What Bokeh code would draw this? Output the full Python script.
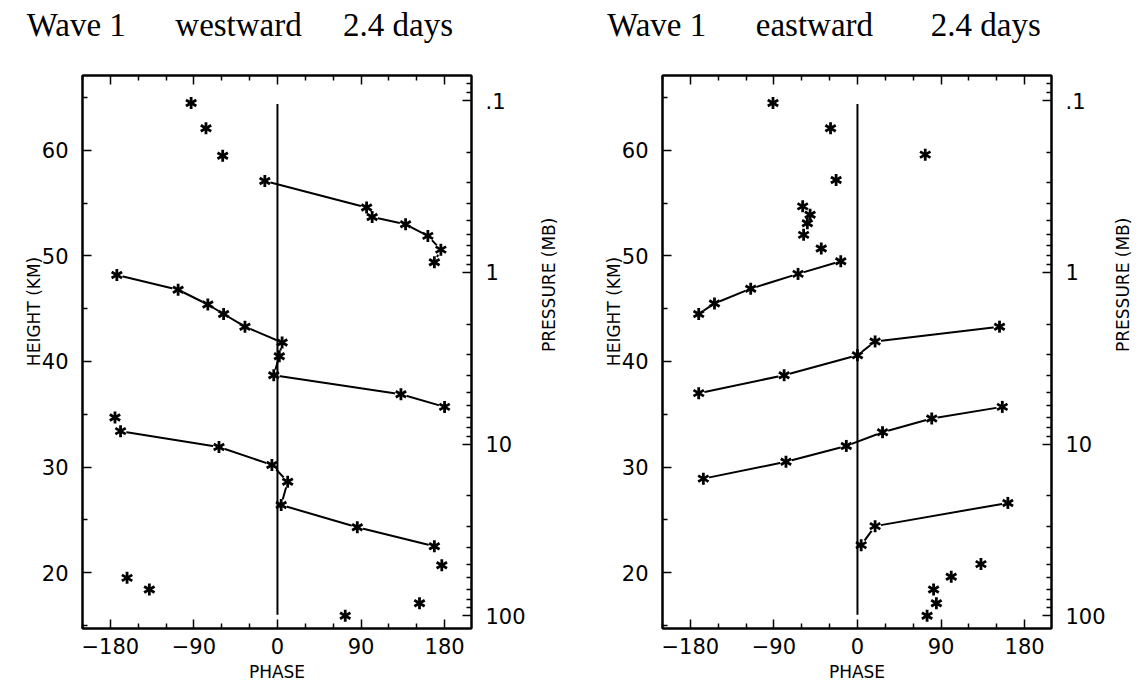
import math
from bokeh.plotting import figure
from bokeh.layouts import row
from bokeh.models import (Range1d, LinearAxis, LogAxis, LogScale, FixedTicker,
                          BasicTickFormatter)
from bokeh.embed import file_html
from bokeh.resources import INLINE

# ---------------- axis ticks / labels ----------------
phase_ticks = [-180, -90, 0, 90, 180]
phase_tick_labels = ["\u2212180", "\u221290", "0", "90", "180"]
phase_minor_ticks = [-210, -150, -120, -60, -30, 30, 60, 120, 150]
height_ticks = [20, 30, 40, 50, 60]
height_tick_labels = ["20", "30", "40", "50", "60"]
height_minor_ticks = [15, 25, 35, 45, 55, 65]
pressure_ticks = [0.1, 1, 10, 100]
pressure_tick_labels = [".1", "1", "10", "100"]
pressure_minor_ticks = [0.08, 0.09, 0.2, 0.3, 0.4, 0.5, 0.6, 0.7, 0.8, 0.9,
                        2, 3, 4, 5, 6, 7, 8, 9, 20, 30, 40, 50, 60, 70, 80, 90]

# log-pressure height relation used for the right axis: z = Z_AT_1MB - KM_PER_DECADE*log10(p)
Z_AT_1MB = 48.45
KM_PER_DECADE = 16.275

# vertical reference line at phase 0 (height extent, km)
zero_line_height = [16.0, 64.4]

# ---------------- Wave 1, westward, 2.4 days ----------------
west_title = ["Wave 1", "westward", "2.4 days"]
west_chain_a_phase = [-13.6, 96, 102, 138, 162, 176, 169]
west_chain_a_height = [57.1, 54.6, 53.7, 53.0, 51.9, 50.6, 49.4]
west_chain_b_phase = [-173, -107, -75, -58, -35, 5, 2, -4, 133, 180]
west_chain_b_height = [48.2, 46.8, 45.4, 44.5, 43.3, 41.8, 40.5, 38.7, 36.9, 35.7]
west_chain_c_phase = [-169, -63, -6, 11, 4, 86, 169]
west_chain_c_height = [33.4, 31.9, 30.2, 28.6, 26.4, 24.3, 22.5]
west_single_phase = [-93, -77, -59, -175, 177, -162, -138, 153, 73]
west_single_height = [64.5, 62.1, 59.5, 34.7, 20.7, 19.5, 18.4, 17.1, 15.9]

# ---------------- Wave 1, eastward, 2.4 days ----------------
east_title = ["Wave 1", "eastward", "2.4 days"]
east_chain_a_phase = [-171, -154, -115, -64, -18]
east_chain_a_height = [44.5, 45.5, 46.9, 48.3, 49.5]
east_chain_b_phase = [-171, -79, 0, 19, 153]
east_chain_b_height = [37.0, 38.7, 40.6, 41.9, 43.3]
east_chain_c_phase = [-166, -77, -12, 27, 80, 156]
east_chain_c_height = [28.9, 30.5, 32.0, 33.3, 34.6, 35.7]
east_chain_d_phase = [4, 19, 162]
east_chain_d_height = [22.6, 24.4, 26.6]
east_chain_e_phase = [-51, -54]
east_chain_e_height = [53.9, 53.1]
east_single_phase = [-91, -29, 73, -23, -59, -58, -39, 133, 101, 82, 85, 75]
east_single_height = [64.5, 62.1, 59.6, 57.2, 54.7, 52.0, 50.7, 20.8, 19.6, 18.4, 17.1, 15.9]

# ---------------- layout constants ----------------
X_START, X_END = -210, 209
Y_START, Y_END = 14.7, 67.1
FRAME_W, FRAME_H = 389, 553
BORDER_TOP, BORDER_BOTTOM = 75, 58
P_START = 10 ** ((Z_AT_1MB - Y_START) / KM_PER_DECADE)
P_END = 10 ** ((Z_AT_1MB - Y_END) / KM_PER_DECADE)

TICK_FONT = "DejaVu Sans"
LABEL_FONT = "DejaVu Sans"
TITLE_FONT = "Liberation Serif"
NB = "\u00a0"


def style_axis(ax):
    ax.axis_line_color = "black"
    ax.axis_line_width = 2
    ax.major_tick_line_color = "black"
    ax.minor_tick_line_color = "black"
    ax.major_tick_line_width = 1.5
    ax.minor_tick_line_width = 1.5
    ax.major_tick_out = 0
    ax.minor_tick_out = 0
    ax.major_tick_in = 9
    ax.minor_tick_in = 5
    ax.major_label_text_font = TICK_FONT
    ax.major_label_text_font_size = "21px"
    ax.major_label_text_color = "black"
    ax.axis_label_text_font = LABEL_FONT
    ax.axis_label_text_font_size = "17px"
    ax.axis_label_text_font_style = "normal"
    ax.axis_label_text_color = "black"


def make_panel(title_words, title_gaps, title_shift, chains, singles,
               border_left, border_right, pres_label_standoff):
    # heading (drawn as the label of the top axis); trailing spaces shift it left
    title_text = (title_words[0] + NB * title_gaps[0] + title_words[1]
                  + NB * title_gaps[1] + title_words[2] + NB * title_shift)
    p = figure(frame_width=FRAME_W, frame_height=FRAME_H,
               x_range=Range1d(X_START, X_END), y_range=Range1d(Y_START, Y_END),
               x_axis_type=None, y_axis_type=None,
               output_backend="svg", toolbar_location=None,
               min_border_left=border_left, min_border_right=border_right,
               min_border_top=BORDER_TOP, min_border_bottom=BORDER_BOTTOM,
               background_fill_color="white", border_fill_color="white")
    p.outline_line_color = "black"
    p.outline_line_width = 2
    p.extra_y_ranges = {"pres": Range1d(P_START, P_END)}
    p.extra_y_scales = {"pres": LogScale()}

    phase_ticker = FixedTicker(ticks=phase_ticks, minor_ticks=phase_minor_ticks)

    bottom = LinearAxis(ticker=phase_ticker, axis_label="PHASE",
                        major_label_overrides=dict(zip(phase_ticks, phase_tick_labels)))
    style_axis(bottom)
    bottom.major_label_standoff = 9
    bottom.axis_label_standoff = 5
    p.add_layout(bottom, "below")

    top = LinearAxis(ticker=phase_ticker, axis_label=title_text,
                     major_label_overrides={t: "" for t in phase_ticks})
    style_axis(top)
    top.major_label_text_font_size = "1px"
    top.major_label_standoff = 0
    top.axis_label_text_font = TITLE_FONT
    top.axis_label_text_font_size = "33px"
    top.axis_label_text_line_height = 1.0
    top.axis_label_standoff = 33
    p.add_layout(top, "above")

    left = LinearAxis(ticker=FixedTicker(ticks=height_ticks, minor_ticks=height_minor_ticks),
                      axis_label=NB * 15 + "HEIGHT (KM)",
                      major_label_overrides=dict(zip(height_ticks, height_tick_labels)))
    style_axis(left)
    left.major_label_standoff = 14
    left.axis_label_standoff = -5
    p.add_layout(left, "left")

    right = LogAxis(y_range_name="pres",
                    ticker=FixedTicker(ticks=pressure_ticks, minor_ticks=pressure_minor_ticks),
                    formatter=BasicTickFormatter(),
                    axis_label="PRESSURE (MB)",
                    major_label_overrides=dict(zip(pressure_ticks, pressure_tick_labels)))
    style_axis(right)
    right.major_label_standoff = 14
    right.axis_label_standoff = pres_label_standoff
    right.axis_label_text_line_height = 1.0
    if "axis_label_orientation" in right.properties():
        right.axis_label_orientation = math.pi / 2
    p.add_layout(right, "right")

    # connecting lines
    for ph, h in chains:
        p.line(ph, h, line_color="black", line_width=2)
    all_ph = [v for ph, _ in chains for v in ph] + list(singles[0])
    all_h = [v for _, h in chains for v in h] + list(singles[1])
    # small white gaps around each asterisk (as in the original plotter output)
    p.scatter(all_ph, all_h, marker="circle", size=12, fill_color="white", line_color=None)
    # reference line at phase 0
    p.line([0, 0], zero_line_height, line_color="black", line_width=2)
    # six-pointed asterisks
    for ang in (math.pi / 2, math.pi / 6, -math.pi / 6):
        p.scatter(all_ph, all_h, marker="dash", angle=ang, size=12,
                  line_color="black", line_width=2.8)
    return p


L1, R1 = 82, 102
L2, R2 = 89, 90
west = make_panel(
    west_title, (6, 5), 9,
    [(west_chain_a_phase, west_chain_a_height),
     (west_chain_b_phase, west_chain_b_height),
     (west_chain_c_phase, west_chain_c_height)],
    (west_single_phase, west_single_height), L1, R1, 20)

east = make_panel(
    east_title, (6, 7), 8,
    [(east_chain_a_phase, east_chain_a_height),
     (east_chain_b_phase, east_chain_b_height),
     (east_chain_c_phase, east_chain_c_height),
     (east_chain_d_phase, east_chain_d_height),
     (east_chain_e_phase, east_chain_e_height)],
    (east_single_phase, east_single_height), L2, R2, 14)

layout = row(west, east)
open("out.html", "w").write(file_html(layout, INLINE))
